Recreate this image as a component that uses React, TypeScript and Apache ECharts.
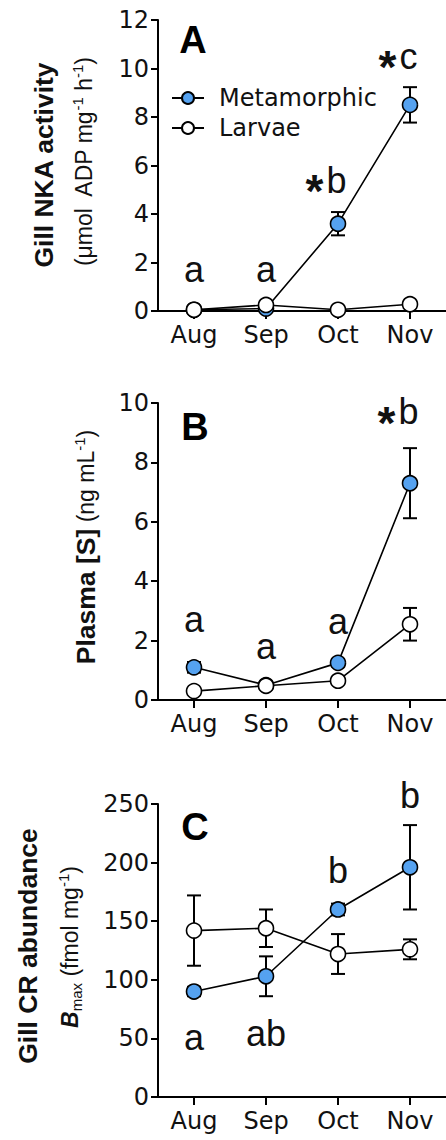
import React, { useEffect, useRef } from "react";
import * as echarts from "echarts";

const categories = ["Aug", "Sep", "Oct", "Nov"];

// Panel A: gill NKA activity
const nkaMeta = [0.05, 0.1, 3.6, 8.5];
const nkaMetaErr = [0.05, 0.05, 0.48, 0.73];
const nkaLarv = [0.05, 0.25, 0.05, 0.28];
const nkaLarvErr = [0.05, 0.08, 0.05, 0.1];
const nkaLetters = ["a", "a", "*b", "*c"];
const nkaLetterY = [1.7, 1.7, 5.4, 10.5];

// Panel B: plasma [S]
const sMeta = [1.1, 0.5, 1.25, 7.3];
const sMetaErr = [0.18, 0.05, 0.12, 1.18];
const sLarv = [0.3, 0.48, 0.65, 2.55];
const sLarvErr = [0.05, 0.05, 0.08, 0.55];
const sLetters = ["a", "a", "a", "*b"];
const sLetterY = [2.7, 1.8, 2.65, 9.7];

// Panel C: gill CR abundance
const crMeta = [90, 103, 160, 196];
const crMetaErr = [4, 17, 5, 36];
const crLarv = [142, 144, 122, 126];
const crLarvErr = [30, 16, 17, 8.5];
const crLetters = ["a", "ab", "b", "b"];
const crLetterY = [51, 54, 193.6, 257.6];

const FONT = "'Liberation Sans', Arial, Helvetica, sans-serif";
const WFONT = "'DejaVu Sans', 'Liberation Sans', Arial, sans-serif";
const BLUE = "#55a2f0";
const TXT = "#111111";

function errData(vals: number[], errs: number[]) {
  return vals.map((v, i) => [i, v - errs[i], v + errs[i]]);
}

function renderErr(params: any, api: any) {
  const x = api.value(0);
  const lo = api.coord([x, api.value(1)]);
  const hi = api.coord([x, api.value(2)]);
  const w = 7;
  const st = { stroke: "#000", lineWidth: 2 };
  return {
    type: "group",
    children: [
      { type: "line", shape: { x1: lo[0], y1: lo[1], x2: hi[0], y2: hi[1] }, style: st },
      { type: "line", shape: { x1: hi[0] - w, y1: hi[1], x2: hi[0] + w, y2: hi[1] }, style: st },
      { type: "line", shape: { x1: lo[0] - w, y1: lo[1], x2: lo[0] + w, y2: lo[1] }, style: st },
    ],
  };
}

function letterFmt(t: string) {
  let s = "";
  for (const ch of t) {
    if (ch === "*") s += "{ast|*}";
    else s += "{l|" + ch + "}";
  }
  return s;
}

const noBorder = { textBorderWidth: 0, textShadowBlur: 0, opacity: 1 };
const letterRich = {
  ast: { fontSize: 46, fontWeight: "bold", fontFamily: FONT, color: TXT, padding: [22, 3, 0, 0], ...noBorder },
  l: { fontSize: 36, fontFamily: FONT, color: TXT, ...noBorder },
};

function panelSeries(
  idx: number,
  meta: number[],
  metaErr: number[],
  larv: number[],
  larvErr: number[],
  letters: string[],
  letterY: number[]
) {
  const common = { xAxisIndex: idx, yAxisIndex: idx };
  return [
    {
      ...common,
      type: "custom",
      renderItem: renderErr,
      data: errData(meta, metaErr),
      encode: { x: 0, y: [1, 2] },
      z: 1,
      silent: true,
    },
    {
      ...common,
      type: "custom",
      renderItem: renderErr,
      data: errData(larv, larvErr),
      encode: { x: 0, y: [1, 2] },
      z: 1,
      silent: true,
    },
    {
      ...common,
      name: "Metamorphic",
      type: "line",
      data: meta,
      symbol: "circle",
      symbolSize: 15,
      showSymbol: true,
      lineStyle: { color: "#000", width: 1.6 },
      itemStyle: { color: BLUE, borderColor: "#000", borderWidth: 1.6 },
      z: 2,
    },
    {
      ...common,
      name: "Larvae",
      type: "line",
      data: larv,
      symbol: "circle",
      symbolSize: 15,
      showSymbol: true,
      lineStyle: { color: "#000", width: 1.6 },
      itemStyle: { color: "#fff", borderColor: "#000", borderWidth: 1.6 },
      z: 3,
    },
    {
      ...common,
      type: "scatter",
      symbolSize: 0,
      clip: false,
      silent: true,
      itemStyle: { color: "#000", opacity: 1 },
      data: letterY.map((y, i) => ({ value: [i, y], name: letters[i] })),
      label: {
        show: true,
        position: "inside",
        color: TXT,
        opacity: 1,
        textBorderWidth: 0,
        formatter: (p: any) => letterFmt(p.name),
        rich: letterRich,
      },
      labelLayout: (p: any) => {
        const name = letters[p.dataIndex];
        if (name.startsWith("*")) return { dx: -12 };
        return {};
      },
      z: 4,
    },
  ];
}

function yAxisCfg(idx: number, min: number, max: number, interval: number) {
  return {
    gridIndex: idx,
    type: "value",
    min,
    max,
    interval,
    splitLine: { show: false },
    axisLine: { show: true, lineStyle: { color: "#000", width: 2 } },
    axisTick: { show: true, length: 7, lineStyle: { color: "#000", width: 2 } },
    axisLabel: { fontSize: 24, fontFamily: WFONT, color: TXT, margin: 9 },
  };
}

function xAxisCfg(idx: number) {
  return {
    gridIndex: idx,
    type: "category",
    data: categories,
    boundaryGap: true,
    axisLine: { show: true, lineStyle: { color: "#000", width: 2 } },
    axisTick: { show: true, alignWithLabel: true, length: 8, lineStyle: { color: "#000", width: 2 } },
    axisLabel: { fontSize: 24, fontFamily: WFONT, color: TXT, margin: 12 },
  };
}

const supStyle = { fontSize: 15, lineHeight: 15, verticalAlign: "top", fontFamily: FONT, color: TXT };
const subStyle = { fontSize: 15, lineHeight: 15, verticalAlign: "bottom", fontFamily: FONT, color: TXT };

function vText(x: number, y: number, text: string, rich: any) {
  return {
    type: "text",
    x,
    y,
    rotation: Math.PI / 2,
    style: {
      text,
      rich,
      align: "center",
      verticalAlign: "middle",
      fontFamily: FONT,
      fill: TXT,
    },
    z: 10,
  };
}

export default function App() {
  const ref = useRef<HTMLDivElement>(null);
  useEffect(() => {
    if (!ref.current) return;
    const chart = echarts.init(ref.current, null, { renderer: "svg" });
    const normal = { fontSize: 23, lineHeight: 28, fontFamily: FONT, color: TXT };
    const bold = { fontSize: 26.5, lineHeight: 28, fontWeight: "bold", fontFamily: FONT, color: TXT };
    const panelLetter = (t: string, x: number, y: number) => ({
      type: "text",
      x,
      y,
      style: { text: t, fontSize: 38, fontWeight: "bold", fontFamily: FONT, fill: "#000", align: "center", verticalAlign: "middle" },
    });
    const option: any = {
      animation: false,
      backgroundColor: "#fff",
      grid: [
        { left: 158, top: 20, width: 290, height: 291 },
        { left: 158, top: 403, width: 290, height: 297 },
        { left: 158, top: 804, width: 290, height: 293 },
      ],
      xAxis: [xAxisCfg(0), xAxisCfg(1), xAxisCfg(2)],
      yAxis: [yAxisCfg(0, 0, 12, 2), yAxisCfg(1, 0, 10, 2), yAxisCfg(2, 0, 250, 50)],
      legend: {
        data: ["Metamorphic", "Larvae"],
        orient: "vertical",
        left: 166,
        top: 81,
        itemWidth: 32,
        itemHeight: 15,
        itemGap: 6,
        textStyle: { fontSize: 24, fontFamily: WFONT, color: TXT, padding: [0, 0, 0, 10] },
        selectedMode: false,
      },
      series: [
        ...panelSeries(0, nkaMeta, nkaMetaErr, nkaLarv, nkaLarvErr, nkaLetters, nkaLetterY),
        ...panelSeries(1, sMeta, sMetaErr, sLarv, sLarvErr, sLetters, sLetterY),
        ...panelSeries(2, crMeta, crMetaErr, crLarv, crLarvErr, crLetters, crLetterY),
      ],
      graphic: [
        panelLetter("A", 193, 40),
        panelLetter("B", 195, 427),
        panelLetter("C", 195, 827),
        vText(44, 165, "{b|Gill NKA activity}", { b: bold }),
        vText(84, 162, "{n|(μmol  ADP mg}{s|-1}{n| h}{s|-1}{n|)}", { n: normal, s: supStyle }),
        vText(86, 547, "{b|Plasma [S]}{n| (ng mL}{s|-1}{n|)}", { b: bold, n: normal, s: supStyle }),
        vText(28, 946, "{b|Gill CR abundance}", { b: bold }),
        vText(70, 947, "{i|B}{u|max}{n| (fmol mg}{s|-1}{n|)}", {
          i: { ...normal, fontStyle: "italic", fontWeight: "bold" },
          u: subStyle,
          n: normal,
          s: supStyle,
        }),
      ],
    };
    chart.setOption(option);
    return () => chart.dispose();
  }, []);
  return (
    <div
      ref={ref}
      style={{ position: "absolute", left: 0, top: 0, width: 446, height: 1140, background: "#fff" }}
    />
  );
}
